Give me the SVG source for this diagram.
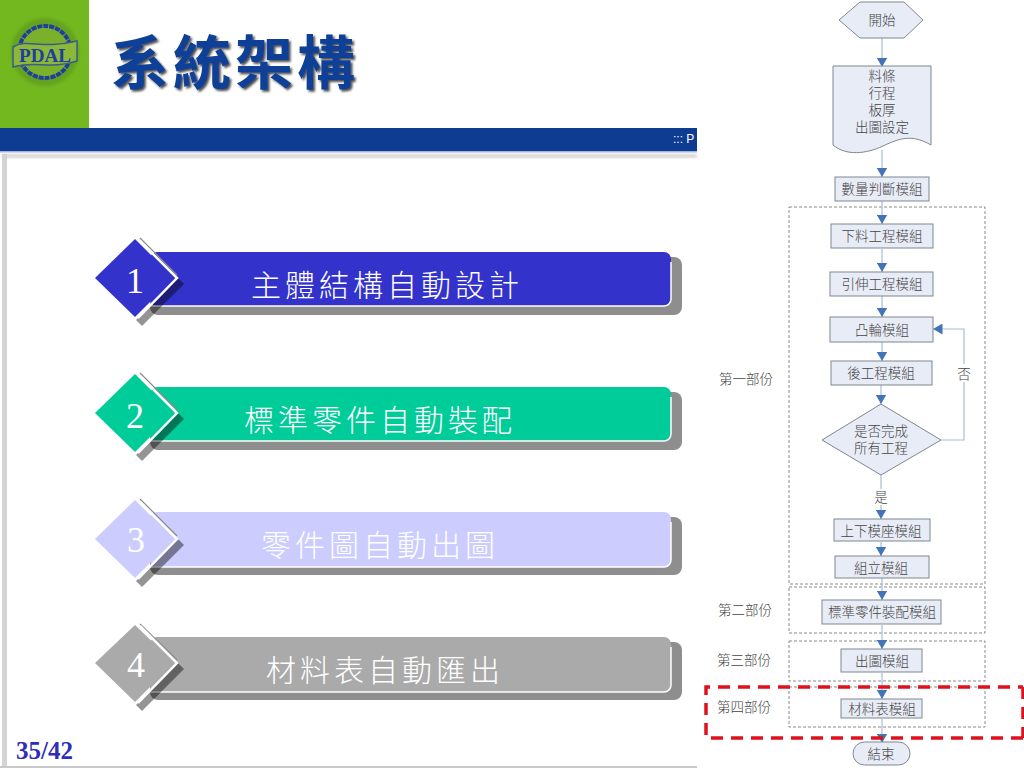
<svg xmlns="http://www.w3.org/2000/svg" width="1024" height="768" viewBox="0 0 1024 768">
<defs>
<marker id="arrow" markerUnits="userSpaceOnUse" markerWidth="11" markerHeight="11" refX="9.5" refY="5.5" orient="auto"><path d="M0 0L9.5 5.5L0 11Z" fill="#4474b8"/></marker>
<filter id="soft" x="-5%" y="-5%" width="110%" height="110%"><feGaussianBlur stdDeviation="1.5"/></filter>
<filter id="tshadow" x="-5%" y="-10%" width="110%" height="125%"><feDropShadow dx="2" dy="2" stdDeviation="1" flood-color="#222" flood-opacity=".8"/></filter>
</defs>
<style>
.cjk{font-family:"Noto Sans CJK TC","Noto Sans CJK JP",sans-serif}
.box{fill:#e8ecf6;stroke:#7f8790;stroke-width:1}
.ft{font-family:"Noto Sans CJK TC",sans-serif;font-size:13.5px;fill:#444;text-anchor:middle;font-weight:300}
.part{fill:none;stroke:#8a8a8a;stroke-width:1;stroke-dasharray:3 2}
.conA{fill:none;stroke:#a6bcd8;stroke-width:1.2;marker-end:url(#arrow)}
.lbl{font-family:"Noto Sans CJK TC",sans-serif;font-size:30px;fill:#fff;text-anchor:middle;font-weight:300;letter-spacing:4px}
.num{font-family:"Liberation Serif",serif;font-size:36px;fill:#fff;text-anchor:middle}
.sh{fill:#8e8e8e}
.ds{fill:#000;opacity:.42}
.wl{fill:none;stroke:#fff;stroke-width:1.5}
.wd{fill:none;stroke:#fff;stroke-width:2.5}
.gl{fill:none;stroke:#888;stroke-width:1.2}
.red{fill:none;stroke:#e0101c;stroke-width:3.5;stroke-dasharray:12 8}
</style>
<rect width="1024" height="768" fill="#fff"/>
<g id="background">
<rect x="0" y="0" width="89" height="128" fill="#72b81e"/>
<rect x="0" y="128" width="697" height="24" fill="#0d3c92"/>
<rect x="0" y="151" width="697" height="1.5" fill="#9fb4d6"/>
<rect x="2" y="154" width="695" height="4" fill="#d8d6d0" filter="url(#soft)"/>
<rect x="2" y="154" width="5" height="614" fill="#d4d4d4"/>
<rect x="0" y="766" width="697" height="2" fill="#c8c8c8"/>
<text x="673" y="143" font-family="'Liberation Sans',sans-serif" font-size="12" fill="#fff">::: P</text>
</g>
<g id="logo">
<circle cx="45" cy="52" r="34" fill="#5f9a20" opacity=".7" filter="url(#soft)"/>
<circle cx="45" cy="52" r="26" fill="#7ab02a" stroke="#1f3fa0" stroke-width="4" stroke-dasharray="5 1"/>
<path d="M13 47C28 38 40 50 77 41L77 61C50 70 35 60 13 67Z" fill="#8cb83a" stroke="#3a5a90" stroke-width="1.5"/>
<text x="45" y="62" font-family="'Liberation Serif',serif" font-weight="bold" font-size="19" fill="#1f3fa0" text-anchor="middle" textLength="52" lengthAdjust="spacingAndGlyphs">PDAL</text>
</g>
<g id="title">
<text x="111" y="84" class="cjk" font-size="58" font-weight="700" letter-spacing="4" fill="#0d3f96" filter="url(#tshadow)">系統架構</text>
</g>
<g id="item1">
<rect x="150" y="257" width="532" height="58" rx="8" class="sh"/>
<rect x="150" y="252" width="521" height="54" rx="7" fill="#3333cc"/>
<path class="wl" d="M150 306H664A7 7 0 0 0 671 299V262"/>
<path class="ds" d="M178 278L184 284L142 326L136 320Z"/>
<path class="gl" d="M140 238L177 275"/>
<path d="M135 239L174 278L135 317L95 278Z" fill="#3333cc"/>
<path class="wd" d="M138 318L177 278L140 241"/>
<text x="135" y="293" class="num">1</text>
<text x="387" y="296" class="lbl">主體結構自動設計</text>
</g>
<g id="item2">
<rect x="150" y="392" width="532" height="58" rx="8" class="sh"/>
<rect x="150" y="387" width="521" height="54" rx="7" fill="#00cc99"/>
<path class="wl" d="M150 441H664A7 7 0 0 0 671 434V397"/>
<path class="ds" d="M178 413L184 419L142 461L136 455Z"/>
<path class="gl" d="M140 373L177 410"/>
<path d="M135 374L174 413L135 452L95 413Z" fill="#00cc99"/>
<path class="wd" d="M138 453L177 413L140 376"/>
<text x="135" y="428" class="num">2</text>
<text x="380" y="431" class="lbl">標準零件自動裝配</text>
</g>
<g id="item3">
<rect x="150" y="517" width="532" height="58" rx="8" class="sh"/>
<rect x="150" y="512" width="521" height="55" rx="7" fill="#ccccff"/>
<path class="wl" d="M150 567H664A7 7 0 0 0 671 560V522"/>
<path class="ds" d="M178 539L184 545L142 587L136 581Z"/>
<path class="gl" d="M140 499L177 536"/>
<path d="M135 500L174 539L135 578L95 539Z" fill="#ccccff"/>
<path class="wd" d="M138 579L177 539L140 502"/>
<text x="136" y="552" class="num">3</text>
<text x="380" y="556" class="lbl">零件圖自動出圖</text>
</g>
<g id="item4">
<rect x="150" y="642" width="532" height="58" rx="8" class="sh"/>
<rect x="150" y="637" width="521" height="55" rx="7" fill="#aaaaaa"/>
<path class="wl" d="M150 692H664A7 7 0 0 0 671 685V647"/>
<path class="ds" d="M178 663L184 669L142 711L136 705Z"/>
<path class="gl" d="M140 624L177 660"/>
<path d="M135 625L174 663L135 702L95 663Z" fill="#aaaaaa"/>
<path class="wd" d="M138 703L177 663L140 626"/>
<text x="136" y="677" class="num">4</text>
<text x="385" y="681" class="lbl">材料表自動匯出</text>
</g>
<g id="page"><text x="16" y="759" font-family="'Liberation Serif',serif" font-weight="bold" font-size="25" fill="#2e2eb8">35/42</text></g>
<g id="parts">
<rect x="789" y="207" width="196" height="377" class="part"/>
<rect x="789" y="587" width="196" height="46" class="part"/>
<rect x="789" y="641" width="196" height="40" class="part"/>
<rect x="789" y="687" width="196" height="40" class="part"/>
</g>
<g id="connectors">
<path class="conA" d="M882 38V67"/>
<path class="conA" d="M882 150V177"/>
<path class="conA" d="M882 201V224"/>
<path class="conA" d="M882 249V272"/>
<path class="conA" d="M882 296V317"/>
<path class="conA" d="M882 342V361"/>
<path class="conA" d="M881 385V404"/>
<path class="conA" d="M881 475V519"/>
<path class="conA" d="M881 542V556"/>
<path class="conA" d="M882 578V600"/>
<path class="conA" d="M882 625V649"/>
<path class="conA" d="M882 673V699"/>
<path class="conA" d="M882 719V743"/>
<path class="conA" d="M941 440H964V329H933"/>
</g>
<g id="start"><path class="box" d="M860 2H904L923 20L904 38H860L839 20Z"/><text class="ft" x="882" y="25">開始</text></g>
<g id="input"><path class="box" d="M833 66H931V145C912 134 900 138 883 146C866 154 846 156 833 145Z"/>
<text class="ft"><tspan x="882" y="81">料條</tspan><tspan x="882" y="98">行程</tspan><tspan x="882" y="115">板厚</tspan><tspan x="882" y="132">出圖設定</tspan></text></g>
<g id="n1"><rect class="box" x="835" y="177" width="94" height="24"/><text class="ft" x="882" y="194">數量判斷模組</text></g>
<g id="n2"><rect class="box" x="831" y="224" width="102" height="24"/><text class="ft" x="882" y="241">下料工程模組</text></g>
<g id="n3"><rect class="box" x="830" y="272" width="103" height="24"/><text class="ft" x="882" y="289">引伸工程模組</text></g>
<g id="n4"><rect class="box" x="830" y="317" width="103" height="25"/><text class="ft" x="882" y="335">凸輪模組</text></g>
<g id="n5"><rect class="box" x="831" y="361" width="101" height="24"/><text class="ft" x="881" y="378">後工程模組</text></g>
<g id="decision"><path class="box" d="M881 404L941 440L881 475L822 440Z"/><text class="ft"><tspan x="881" y="436">是否完成</tspan><tspan x="881" y="453">所有工程</tspan></text></g>
<g id="n6"><rect class="box" x="834" y="519" width="96" height="22"/><text class="ft" x="881" y="536">上下模座模組</text></g>
<g id="n7"><rect class="box" x="835" y="556" width="94" height="22"/><text class="ft" x="881" y="573">組立模組</text></g>
<g id="n8"><rect class="box" x="822" y="600" width="119" height="24"/><text class="ft" x="882" y="617">標準零件裝配模組</text></g>
<g id="n9"><rect class="box" x="841" y="649" width="81" height="23"/><text class="ft" x="882" y="666">出圖模組</text></g>
<g id="n10"><rect class="box" x="841" y="699" width="81" height="19"/><text class="ft" x="882" y="714">材料表模組</text></g>
<g id="end"><rect class="box" x="853" y="742" width="57" height="23" rx="11.5"/><text class="ft" x="881" y="759">結束</text></g>
<g id="labels">
<rect x="955" y="364" width="18" height="18" fill="#fff"/><text class="ft" x="964" y="379">否</text>
<rect x="872" y="489" width="18" height="16" fill="#fff"/><text class="ft" x="881" y="502">是</text>
<text class="ft" x="746" y="384">第一部份</text>
<text class="ft" x="745" y="615">第二部份</text>
<text class="ft" x="744" y="665">第三部份</text>
<text class="ft" x="744" y="712">第四部份</text>
</g>
<g id="highlight"><path class="red" d="M1023 738H706V687H1023"/><path class="red" d="M1023 687V738"/></g>
</svg>
